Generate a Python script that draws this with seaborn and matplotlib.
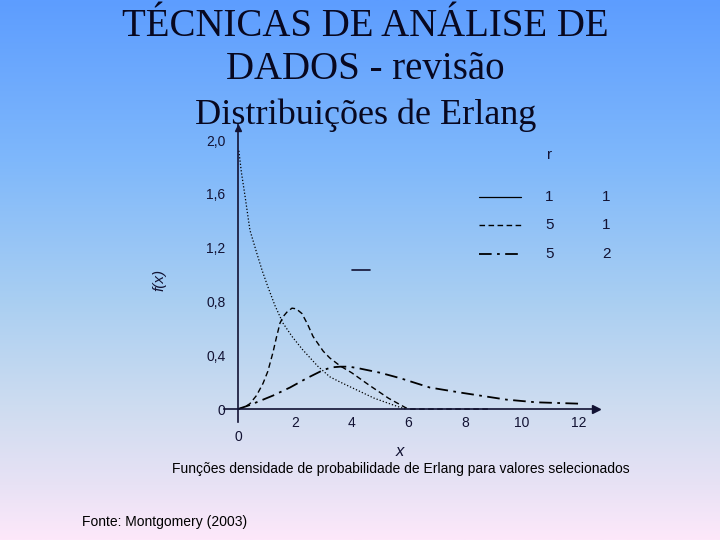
import numpy as np
import matplotlib
matplotlib.use("Agg")
import matplotlib.pyplot as plt
from matplotlib.colors import LinearSegmentedColormap
from matplotlib.lines import Line2D
import seaborn as sns

# curves (Montgomery, Erlang pdfs)
x_r1 = [0.03, 0.12, 0.25, 0.42, 0.66, 0.85, 1.05, 1.3, 1.58, 1.9, 2.28, 2.8, 3.23, 3.6, 4.0, 4.4, 4.8, 5.2, 5.6, 5.9]
f_r1 = [1.92, 1.76, 1.58, 1.33, 1.16, 1.03, 0.91, 0.77, 0.64, 0.54, 0.44, 0.32, 0.24, 0.20, 0.16, 0.12, 0.08, 0.05, 0.02, 0.0]

x_r5a = [0.0, 0.2, 0.42, 0.65, 0.88, 1.05, 1.23, 1.35, 1.48, 1.6, 1.72, 1.9, 2.05, 2.25, 2.45, 2.64,
         3.0, 3.23, 3.6, 4.0, 4.6, 5.3, 5.9, 6.0, 8.8]
f_r5a = [0.0, 0.01, 0.04, 0.10, 0.19, 0.28, 0.42, 0.53, 0.64, 0.69, 0.72, 0.75, 0.745, 0.71, 0.63, 0.54,
         0.43, 0.38, 0.32, 0.27, 0.18, 0.08, 0.01, 0.0, 0.0]

x_r5b = [0.0, 0.42, 1.23, 1.83, 2.43, 3.0, 3.3, 3.6, 3.9, 4.2, 5.0, 5.7, 6.75, 7.9, 9.45, 10.5, 12.0]
f_r5b = [0.0, 0.03, 0.10, 0.16, 0.23, 0.29, 0.31, 0.315, 0.315, 0.305, 0.27, 0.23, 0.16, 0.12, 0.07, 0.05, 0.04]

legend_r = ["1", "5", "5"]
legend_lam = ["1", "1", "2"]

x_ticks = [2, 4, 6, 8, 10, 12]
y_ticks = [0, 0.4, 0.8, 1.2, 1.6, 2.0]
y_tick_labels = ["0", "0,4", "0,8", "1,2", "1,6", "2,0"]

sns.set_style("white")
plt.rcParams["font.family"] = ["Liberation Sans", "DejaVu Sans"]

ink = "#121233"

fig = plt.figure(figsize=(7.2, 5.4), dpi=100)

# slide background gradient
bg = fig.add_axes([0, 0, 1, 1], zorder=-10)
cmap = LinearSegmentedColormap.from_list(
    "slide", [(0.0, "#5d9dff"), (0.3, "#7fb8fb"), (0.55, "#a8cef2"),
              (0.75, "#cddcf0"), (0.9, "#e8e2f5"), (1.0, "#fde8fa")])
grad = np.linspace(0, 1, 256).reshape(-1, 1)
bg.imshow(grad, aspect="auto", cmap=cmap, extent=[0, 1, 0, 1], origin="upper")
bg.set_axis_off()

ax = fig.add_axes([0.3108, 0.2176, 0.517, 0.553])
ax.patch.set_alpha(0)

styles = [(x_r1, f_r1, (0, (1, 1.6)), 0.9),
          (x_r5a, f_r5a, (0, (4, 2.5)), 1.0),
          (x_r5b, f_r5b, (0, (7, 3, 1.5, 3)), 1.3)]
for xs, ys, ls, lw in styles:
    sns.lineplot(x=xs, y=ys, ax=ax, color="black", linestyle=ls, lw=lw,
                 sort=False, estimator=None)

ax.set_xlim(-0.5, 12.6)
ax.set_ylim(-0.1, 2.12)
for side in ["top", "right"]:
    ax.spines[side].set_visible(False)
for side in ["left", "bottom"]:
    ax.spines[side].set_position(("data", 0))
    ax.spines[side].set_color(ink)
    ax.spines[side].set_linewidth(1.2)

ax.plot(1, 0, ">", color=ink, ms=6, transform=ax.get_yaxis_transform(), clip_on=False)
ax.plot(0, 0.985, "^", color=ink, ms=5, transform=ax.get_xaxis_transform(), clip_on=False)

ax.set_xticks(x_ticks)
ax.set_yticks(y_ticks)
ax.set_yticklabels(y_tick_labels)
ax.tick_params(axis="x", length=0, labelsize=10, pad=5, labelcolor=ink)
ax.tick_params(axis="y", length=0, labelsize=10, pad=9, labelcolor=ink)
ax.annotate("0", (0, 0), xytext=(0, -20), textcoords="offset points",
            ha="center", va="center", fontsize=10, color=ink)

# legend table
ax.text(0.874, 0.896, "r", transform=ax.transAxes, ha="center", va="center",
        fontsize=11, color=ink)
row_y = [0.755, 0.662, 0.565]
for (xs, ys, ls, lw), yy, r, lam in zip(styles, row_y, legend_r, legend_lam):
    if ls == styles[0][2]:
        ls = "-"
    ax.plot([0.6857, 0.7985], [yy, yy], transform=ax.transAxes, color="black",
            linestyle=ls, lw=lw, clip_on=False)
    ax.text(0.874, yy, r, transform=ax.transAxes, ha="center", va="center",
            fontsize=11, color=ink)
    ax.text(1.027, yy, lam, transform=ax.transAxes, ha="center", va="center",
            fontsize=11, color=ink, clip_on=False)

fig.add_artist(Line2D([352 / 720, 370 / 720], [1 - 270 / 540] * 2, color=ink, lw=1.2))

fig.text(0.222, 0.481, "f(x)", rotation=90, ha="center", va="center",
         fontsize=11, style="italic", color=ink)
fig.text(0.556, 0.163, "x", ha="center", va="center", fontsize=12,
         style="italic", color=ink)
fig.text(0.556, 0.1315, "Funções densidade de probabilidade de Erlang para valores selecionados",
         ha="center", va="center", fontsize=10, color="black")
fig.text(0.114, 0.0333, "Fonte: Montgomery (2003)", ha="left", va="center",
         fontsize=10, color="black")

title_font = ["Liberation Serif", "DejaVu Serif"]
fig.text(0.508, 0.9333, "TÉCNICAS DE ANÁLISE DE", ha="center", va="baseline",
         fontsize=28, family=title_font, color="#080820", zorder=5)
fig.text(0.507, 0.8537, "DADOS - revisão", ha="center", va="baseline",
         fontsize=28, family=title_font, color="#080820", zorder=5)
fig.text(0.508, 0.7704, "Distribuições de Erlang", ha="center", va="baseline",
         fontsize=26, family=title_font, color="#080820", zorder=5)

fig.savefig("out.png", dpi=100)
